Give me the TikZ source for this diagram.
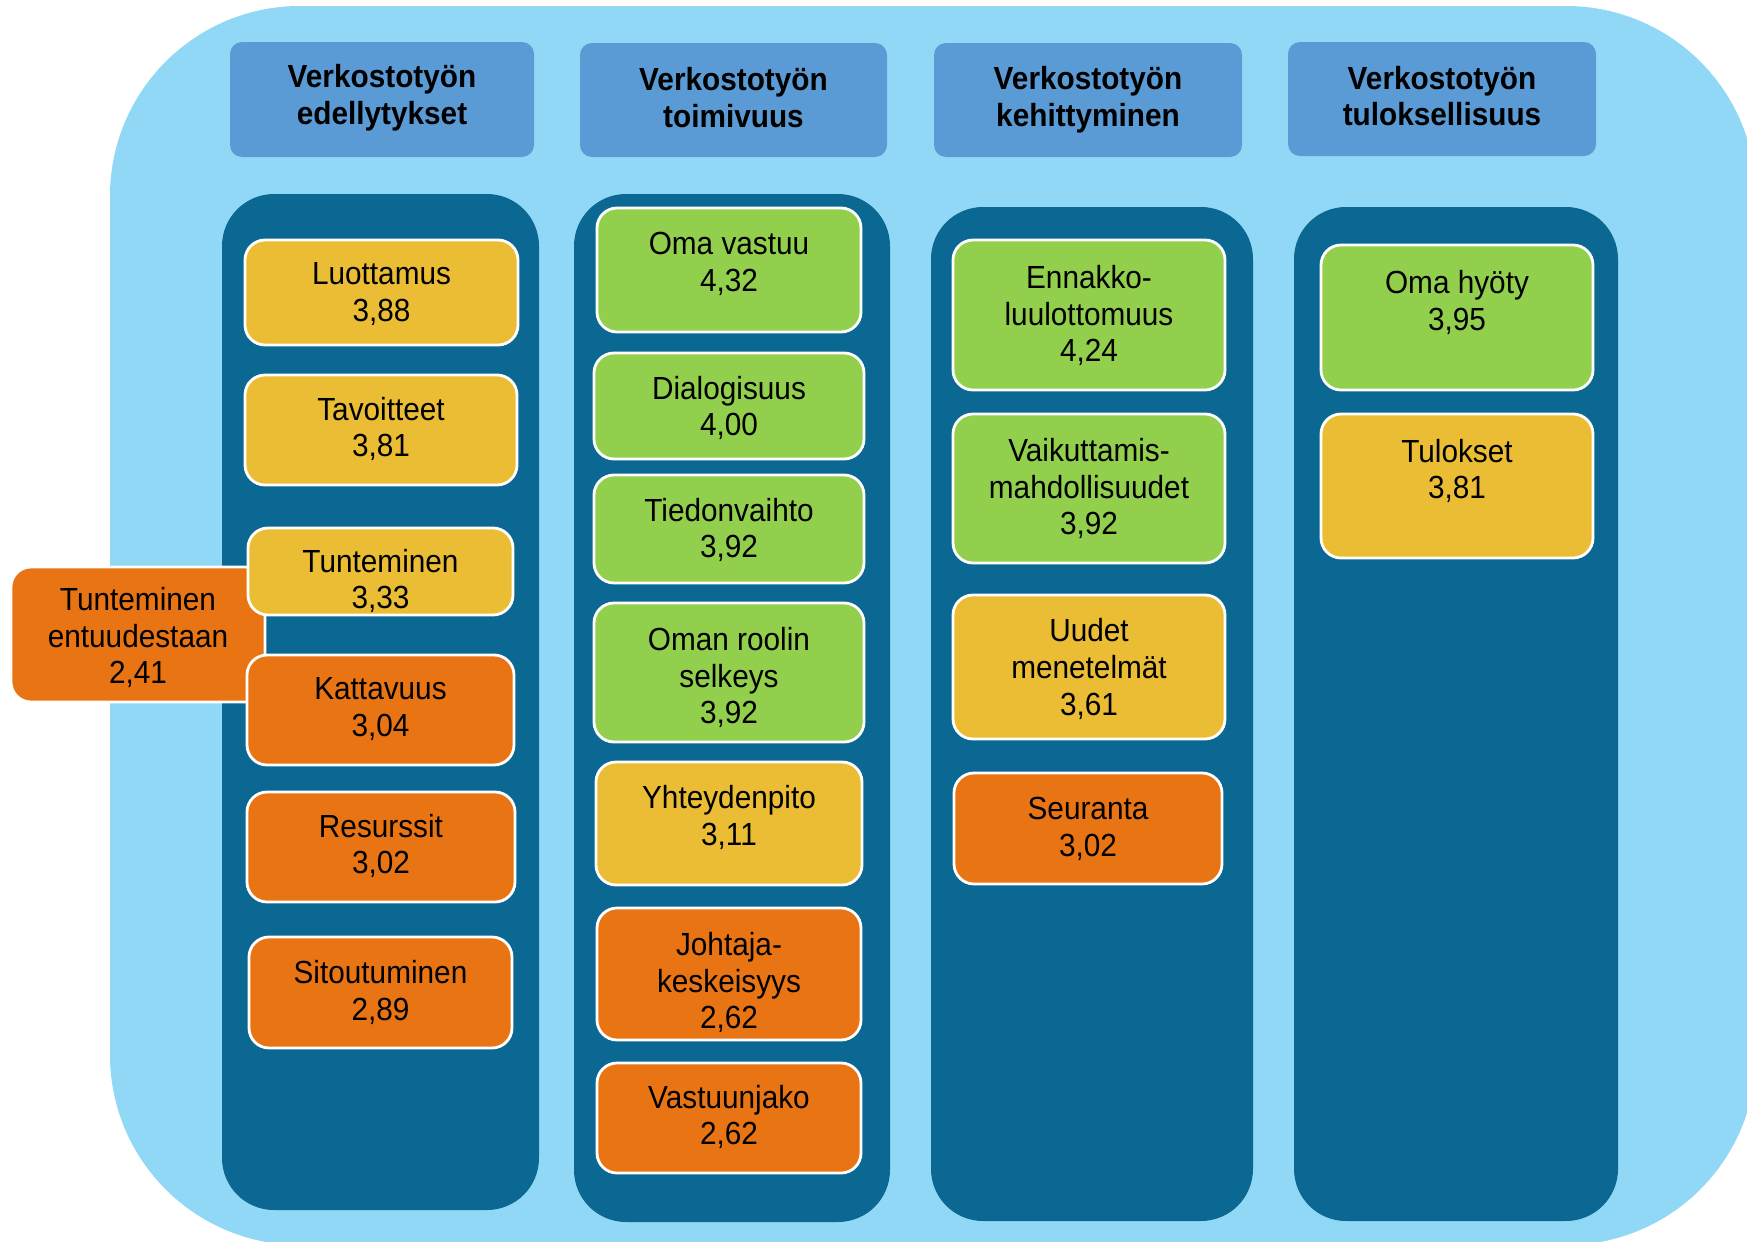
\documentclass[tikz,border=0pt]{standalone}
\usepackage{fontspec}
\setmainfont{Liberation Sans}[FakeStretch=0.93]
\usepackage{tikz}
\usetikzlibrary{fit}
\definecolor{tausta}{RGB}{145,216,246}
\definecolor{otsikkosin}{RGB}{91,155,213}
\definecolor{sarake}{RGB}{11,104,146}
\definecolor{keltainen}{RGB}{235,189,52}
\definecolor{vihrea}{RGB}{146,207,76}
\definecolor{oranssi}{RGB}{233,116,20}
\tikzset{
   otsikko/.style={fill=otsikkosin, rounded corners=6pt, inner sep=0pt},
   otsikkoteksti/.style={font=\fontsize{16pt}{18.3pt}\selectfont\bfseries,
      align=center, inner sep=0pt},
   sarakepohja/.style={fill=sarake, rounded corners=26pt},
   laatikko/.style={draw=white, line width=1.4pt, rounded corners=10pt, inner sep=0pt},
   kelta/.style={laatikko, fill=keltainen},
   vihr/.style={laatikko, fill=vihrea},
   oranssi laatikko/.style={laatikko, fill=oranssi},
   teksti/.style={font=\fontsize{16pt}{18.3pt}\selectfont, align=center,
      inner sep=0pt, yshift=-1.25pt},
    }

\begin{document}
\begin{tikzpicture}[x=0.5pt, y=-0.5pt]
       \useasboundingbox (0,0) rectangle (1747,1242);
       \clip (0,0) rectangle (1747,1242);
       \fill[tausta, rounded corners=95pt] (110,6) rectangle (1756,1245);

       \node[otsikko, fit={(230,42) (534,157)}] (h1) {};
       \node[otsikko, fit={(580,43) (887,157)}] (h2) {};
       \node[otsikko, fit={(934,43) (1242,157)}] (h3) {};
       \node[otsikko, fit={(1288,42) (1596,156)}] (h4) {};
       \node[otsikkoteksti] (h1t) at (382,98) {Verkostotyön\\edellytykset};
       \node[otsikkoteksti] (h2t) at (733.5,97.5) {Verkostotyön\\toimivuus};
       \node[otsikkoteksti] (h3t) at (1088,99.5) {Verkostotyön\\kehittyminen};
       \node[otsikkoteksti] (h4t) at (1442,96) {Verkostotyön\\tuloksellisuus};

       \fill[sarakepohja] (222,194) rectangle (539,1210);
       \fill[sarakepohja] (574,194) rectangle (890,1222);
       \fill[sarakepohja] (931,207) rectangle (1253,1221);
       \fill[sarakepohja] (1294,207) rectangle (1618,1221);

       \node[oranssi laatikko, fit={(11,567) (265,702)}] (entuudestaan) {};
       \node[teksti] (entuudestaant) at (138,635) {Tunteminen\\entuudestaan\\2,41};

       \node[kelta, fit={(245,240) (518,345)}] (luottamus) {};
       \node[teksti] (luottamust) at (381.5,291.5) {Luottamus\\3,88};
       \node[kelta, fit={(245,375) (517,485)}] (tavoitteet) {};
       \node[teksti] (tavoitteett) at (381,426.5) {Tavoitteet\\3,81};
       \node[kelta, fit={(248,528) (513,615)}] (tunteminen) {};
       \node[teksti] (tunteminent) at (380.5,578.5) {Tunteminen\\3,33};
       \node[oranssi laatikko, fit={(247,655) (514,765)}] (kattavuus) {};
       \node[teksti] (kattavuust) at (380.5,706.5) {Kattavuus\\3,04};
       \node[oranssi laatikko, fit={(247,792) (515,902)}] (resurssit) {};
       \node[teksti] (resurssitt) at (381,843.5) {Resurssit\\3,02};
       \node[oranssi laatikko, fit={(249,937) (512,1048)}] (sitoutuminen) {};
       \node[teksti] (sitoutuminent) at (380.5,990) {Sitoutuminen\\2,89};

       \node[vihr, fit={(597,208) (861,332)}] (omavastuu) {};
       \node[teksti] (omavastuut) at (729,261.5) {Oma vastuu\\4,32};
       \node[vihr, fit={(594,353) (864,459)}] (dialogisuus) {};
       \node[teksti] (dialogisuust) at (729,405.5) {Dialogisuus\\4,00};
       \node[vihr, fit={(594,475) (864,583)}] (tiedonvaihto) {};
       \node[teksti] (tiedonvaihtot) at (729,527.5) {Tiedonvaihto\\3,92};
       \node[vihr, fit={(594,603) (864,742)}] (rooli) {};
       \node[teksti] (roolit) at (729,675) {Oman roolin\\selkeys\\3,92};
       \node[kelta, fit={(596,762) (862,885)}] (yhteydenpito) {};
       \node[teksti] (yhteydenpitot) at (729,815) {Yhteydenpito\\3,11};
       \node[oranssi laatikko, fit={(597,908) (861,1040)}] (johtaja) {};
       \node[teksti] (johtajat) at (729,980) {Johtaja-\\keskeisyys\\2,62};
       \node[oranssi laatikko, fit={(597,1063) (861,1173)}] (vastuunjako) {};
       \node[teksti] (vastuunjakot) at (729,1114.5) {Vastuunjako\\2,62};

       \node[vihr, fit={(953,240) (1225,390)}] (ennakko) {};
       \node[teksti] (ennakkot) at (1089,313) {Ennakko-\\luulottomuus\\4,24};
       \node[vihr, fit={(953,414) (1225,563)}] (vaikuttamis) {};
       \node[teksti] (vaikuttamist) at (1089,486) {Vaikuttamis-\\mahdollisuudet\\3,92};
       \node[kelta, fit={(953,595) (1225,739)}] (uudet) {};
       \node[teksti] (uudett) at (1089,666.5) {Uudet\\menetelmät\\3,61};
       \node[oranssi laatikko, fit={(954,773) (1222,884)}] (seuranta) {};
       \node[teksti] (seurantat) at (1088,826.5) {Seuranta\\3,02};

       \node[vihr, fit={(1321,245) (1593,390)}] (omahyoty) {};
       \node[teksti] (omahyotyt) at (1457,300) {Oma hyöty\\3,95};
       \node[kelta, fit={(1321,414) (1593,558)}] (tulokset) {};
       \node[teksti] (tuloksett) at (1457,468.5) {Tulokset\\3,81};
   \end{tikzpicture}
\end{document}
